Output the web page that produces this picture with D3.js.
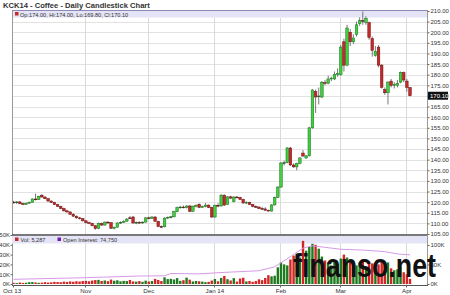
<!DOCTYPE html>
<html>
<head>
<meta charset="utf-8">
<script src="https://cdn.jsdelivr.net/npm/d3@7"></script>
<style>
  body { margin: 0; background: #fff; }
  svg { display: block; font-family: "Liberation Sans", Arial, sans-serif; }
</style>
</head>
<body>
<svg id="chart" width="450" height="295"></svg>
<script>
// month labels and the trading-day index where each month starts
const monthLabels = ["Oct 13", "Nov", "Dec", "Jan 14", "Feb", "Mar", "Apr"];
const monthStart = [0, 23, 43, 64, 85, 104, 125];

// daily OHLC, Oct 1 2013 .. Apr 2 2014
const opens = [120.0,119.8,120.1,119.3,118.9,119.5,119.9,121.5,121.2,123.3,122.4,121.6,120.5,119.9,118.8,118.0,117.0,115.9,115.4,114.3,113.4,112.6,112.2,
  111.2,110.4,110.0,108.9,107.6,109.9,109.2,110.6,110.3,107.7,108.2,110.2,110.5,111.0,112.6,113.0,110.2,110.5,110.3,110.6,
  112.6,112.4,113.0,111.0,108.5,108.4,112.5,112.9,113.1,115.5,117.5,117.7,117.4,118.2,115.7,118.1,119.0,117.5,118.0,118.6,117.5,
  113.0,118.5,118.2,123.3,119.0,122.5,120.2,122.4,122.2,121.3,119.6,119.9,118.9,117.9,117.7,117.0,116.8,116.2,115.8,118.7,122.2,
  127.1,138.4,138.6,145.5,137.5,136.6,138.2,143.1,140.8,141.8,155.0,172.0,169.8,169.5,176.3,176.0,178.0,178.0,180.0,
  180.0,195.5,184.5,200.0,195.5,199.0,204.0,205.5,204.5,204.5,197.0,189.0,193.0,184.5,173.0,171.5,177.0,175.0,175.0,176.5,181.0,
  177.0,174.0];
const highs = [120.6,120.4,120.5,119.8,119.8,120.3,121.8,124.0,123.0,123.7,122.8,122.0,120.9,120.2,119.2,118.3,117.4,116.4,115.6,114.8,113.7,113.0,112.5,
  111.5,110.8,110.3,109.2,110.3,110.4,110.9,111.0,110.6,108.5,110.5,110.9,111.5,112.5,113.5,113.5,110.9,111.0,110.9,112.9,
  113.2,113.4,113.4,111.2,109.0,112.8,113.2,113.4,116.0,117.9,118.2,118.4,118.5,118.6,118.4,119.0,119.4,118.4,119.6,118.9,117.8,
  118.9,119.5,123.8,123.6,122.8,123.0,122.8,122.9,122.6,121.6,120.4,120.2,119.2,118.5,118.0,117.8,117.6,116.4,119.0,122.6,127.5,
  138.9,139.5,145.9,146.0,138.2,138.6,141.2,144.5,142.2,155.4,173.2,173.0,174.0,177.0,177.5,179.5,179.0,181.5,183.0,
  194.0,197.0,203.5,201.5,199.0,205.0,207.0,209.8,207.5,205.0,198.0,193.5,194.0,185.0,174.0,177.0,178.0,176.5,177.5,181.5,181.5,
  178.0,174.0];
const lows = [119.4,119.2,119.0,118.6,118.7,119.2,119.7,120.8,121.0,122.2,121.4,120.3,119.6,118.6,117.7,116.8,115.6,115.0,114.0,113.0,112.2,111.8,110.9,
  110.0,109.6,108.6,107.0,107.3,108.8,109.0,109.8,107.4,107.2,108.0,109.8,110.2,110.8,112.0,109.8,109.6,109.9,109.8,110.4,
  112.0,112.1,110.8,108.2,107.9,108.1,112.0,112.4,112.8,115.2,116.9,117.1,117.0,115.3,115.4,117.5,117.2,117.2,117.6,117.2,112.6,
  112.6,117.6,117.9,118.3,118.8,121.4,119.9,121.8,121.0,119.3,119.1,118.6,117.6,117.4,116.7,116.5,115.9,115.5,115.6,118.4,121.9,
  126.8,137.2,138.3,137.0,136.2,135.0,137.8,141.4,140.3,141.5,154.6,162.0,166.0,169.0,175.0,175.5,177.0,177.5,179.0,
  179.5,181.5,184.0,193.5,194.5,198.0,203.0,203.5,203.5,196.5,188.5,188.5,183.5,173.5,170.5,166.0,174.0,173.5,174.0,176.0,176.5,
  172.0,169.8];
const closes = [119.8,120.1,119.3,118.9,119.5,119.9,121.5,121.2,122.8,122.4,121.6,120.5,119.9,118.8,118.0,117.0,115.9,115.4,114.3,113.4,112.6,112.2,111.2,
  110.4,110.0,108.9,107.6,109.9,109.2,110.6,110.3,107.7,108.2,110.2,110.5,111.0,112.0,112.4,110.2,110.5,110.3,110.6,112.6,
  112.4,113.0,111.0,108.5,108.4,112.5,112.9,113.1,115.5,117.5,117.7,117.4,118.2,115.7,118.1,118.4,117.5,118.0,118.6,117.5,113.0,
  118.5,118.2,123.3,118.6,122.5,121.9,122.4,122.2,121.3,119.6,119.9,118.9,117.9,117.7,117.0,116.8,116.2,115.8,118.7,122.2,127.1,
  138.4,138.6,145.5,137.5,136.6,138.2,140.8,141.7,141.8,155.0,172.8,169.5,170.0,176.5,176.0,178.0,178.4,180.0,180.6,
  193.0,184.5,202.0,195.5,197.3,203.5,205.5,205.4,206.5,197.5,191.5,191.0,184.5,174.0,171.5,176.5,175.0,175.5,176.0,181.0,177.5,
  174.0,170.1];

// daily volume, thousands of contracts
const volumes = [1.2,0.9,1.5,1.1,1.3,1.8,2.0,1.6,1.2,1.4,1.9,1.5,1.7,2.2,2.0,1.8,2.4,2.1,2.6,2.3,2.8,2.5,3.0,
  3.2,2.8,3.5,4.0,4.2,3.1,3.6,2.9,4.5,3.3,3.8,2.7,3.2,3.0,4.1,2.6,2.4,3.0,2.2,3.4,
  2.5,3.0,5.2,4.1,3.0,6.8,5.0,5.3,4.6,6.0,3.2,3.9,6.5,4.4,2.6,3.1,2.8,2.4,1.9,2.2,3.5,
  5.1,2.8,6.2,8.2,4.9,3.6,6.0,2.5,5.6,6.4,2.6,3.1,2.2,3.0,4.8,3.9,6.1,9.0,7.8,8.5,17.0,
  22.0,20.0,19.0,25.0,29.0,31.0,27.0,44.0,34.0,38.0,41.0,40.0,36.0,28.0,24.0,22.0,19.0,23.0,20.0,
  26.0,30.0,27.0,24.0,21.0,19.0,22.0,25.0,18.0,23.0,21.0,17.0,20.0,24.0,19.0,22.0,16.0,14.0,15.0,18.0,12.0,
  10.0,5.287];

// open interest readings (trading-day index, thousands)
const oiIdx = [0, 22, 40, 48, 50, 59, 65, 78, 83, 88, 92, 95, 99, 104, 111, 118, 122, 126];
const oiVal = [12, 16, 20.5, 21, 27, 26, 29, 34, 44, 70, 92, 98, 94, 89, 87, 83, 77, 74.75];

const svg = d3.select("#chart");
const L = 12, R = 427;
const green = "#3fcf3f", greenEdge = "#1c6e1c";
const red = "#c42a2a", redEdge = "#6e1010";

const x = d3.scaleLinear().domain([0, 126]).range([13.5, 410]);
const y = d3.scaleLinear().domain([105, 210]).range([234, 11]);
const yVol = d3.scaleLinear().domain([0, 50]).range([284, 235]);
const yOi = d3.scaleLinear().domain([0, 100]).range([284, 245]);

// title
svg.append("text")
  .attr("x", 3).attr("y", 8)
  .style("font-size", "7.6px").style("font-weight", "bold").attr("fill", "#333")
  .text("KCK14 - Coffee - Daily Candlestick Chart");

// ---- price panel ----
const grid = svg.append("g");
grid.selectAll(".hg").data(y.ticks(21)).enter().append("line")
  .attr("x1", L).attr("x2", R)
  .attr("y1", d => Math.round(y(d)) + 0.5).attr("y2", d => Math.round(y(d)) + 0.5)
  .attr("stroke", "#e2e2e2");
grid.selectAll(".vg").data(monthStart.slice(1)).enter().append("line")
  .attr("x1", d => Math.round(x(d)) - 0.5).attr("x2", d => Math.round(x(d)) - 0.5)
  .attr("y1", 18).attr("y2", 285)
  .attr("stroke", "#dadada");

// legend band
svg.append("rect").attr("x", L).attr("y", 10.5).attr("width", R - L).attr("height", 7)
  .attr("fill", "#e4e4f6");
svg.append("line").attr("x1", L).attr("x2", R).attr("y1", 10.5).attr("y2", 10.5)
  .attr("stroke", "#8a8ab8");
svg.append("rect").attr("x", 15).attr("y", 12).attr("width", 3.5).attr("height", 3.5).attr("fill", red);
svg.append("text").attr("x", 20).attr("y", 16.5)
  .style("font-size", "5.6px").attr("fill", "#333")
  .text("Op:174.00, Hi:174.00, Lo:169.80, Cl:170.10");

// candles
const last = closes.length - 1;
const candles = svg.append("g");
d3.range(closes.length).forEach(i => {
  const up = closes[i] >= opens[i];
  const cx = x(i);
  candles.append("line")
    .attr("x1", cx).attr("x2", cx)
    .attr("y1", y(highs[i])).attr("y2", y(lows[i]))
    .attr("stroke", "#555").attr("stroke-width", 0.8);
  const top = y(Math.max(opens[i], closes[i]));
  const h = Math.max(0.8, Math.abs(y(opens[i]) - y(closes[i])));
  candles.append("rect")
    .attr("x", cx - 1.3).attr("y", top)
    .attr("width", 2.6).attr("height", h)
    .attr("fill", Math.abs(opens[i] - closes[i]) < 0.3 ? "#222" : (up ? green : red))
    .attr("stroke", up ? greenEdge : redEdge).attr("stroke-width", 0.5);
});

// price frame + right axis
svg.append("line").attr("x1", L + 0.5).attr("x2", L + 0.5).attr("y1", 10).attr("y2", 285).attr("stroke", "#999");
svg.append("line").attr("x1", R + 0.5).attr("x2", R + 0.5).attr("y1", 10).attr("y2", 285).attr("stroke", "#999");
const priceAxis = svg.append("g")
  .attr("transform", `translate(${R + 0.5},0)`)
  .call(d3.axisRight(y).tickValues(y.ticks(21)).tickSize(2).tickPadding(1).tickFormat(d3.format(".2f")));
priceAxis.select(".domain").remove();
priceAxis.selectAll("text").style("font-size", "6px").attr("fill", "#333");
priceAxis.selectAll("line").attr("stroke", "#666");

// last price tag
svg.append("rect").attr("x", R + 1).attr("y", y(closes[last]) - 4).attr("width", 20).attr("height", 8).attr("fill", "#111");
svg.append("text").attr("x", R + 3).attr("y", y(closes[last]) + 2.2)
  .style("font-size", "6px").attr("fill", "#fff")
  .text(d3.format(".2f")(closes[last]));

// ---- volume panel ----
svg.append("rect").attr("x", L).attr("y", 235).attr("width", R - L).attr("height", 8.5).attr("fill", "#e4e4f6");
svg.append("line").attr("x1", L).attr("x2", R).attr("y1", 235).attr("y2", 235)
  .attr("stroke", "#555").attr("stroke-width", 1.6);
svg.append("rect").attr("x", 15).attr("y", 237.5).attr("width", 3.5).attr("height", 3.5).attr("fill", red);
svg.append("text").attr("x", 20.5).attr("y", 242).style("font-size", "5.6px").attr("fill", "#333")
  .text("Vol: " + d3.format(",")(Math.round(volumes[last] * 1000)));
svg.append("rect").attr("x", 57.5).attr("y", 237.5).attr("width", 3.5).attr("height", 3.5).attr("fill", "#6a1fb0");
svg.append("text").attr("x", 63).attr("y", 242).style("font-size", "5.6px").attr("fill", "#333")
  .text("Open Interest: " + d3.format(",")(oiVal[oiVal.length - 1] * 1000));

svg.append("g").selectAll("rect").data(volumes).enter().append("rect")
  .attr("x", (d, i) => x(i) - 1.2).attr("width", 2.4)
  .attr("y", d => yVol(d)).attr("height", d => yVol(0) - yVol(d))
  .attr("fill", (d, i) => closes[i] >= opens[i] ? "#1e7a1e" : "#d42424");

const oiLine = d3.line().x(d => x(d[0])).y(d => yOi(d[1]));
svg.append("path")
  .datum(oiIdx.map((d, i) => [d, oiVal[i]]))
  .attr("d", oiLine).attr("fill", "none")
  .attr("stroke", "#d79ae6").attr("stroke-width", 1);

const volAxis = svg.append("g").attr("transform", `translate(${L + 0.5},0)`)
  .call(d3.axisLeft(yVol).tickValues([0, 10, 20, 30, 40, 50]).tickSize(2).tickPadding(0.5).tickFormat(d => d + "K"));
volAxis.select(".domain").remove();
volAxis.selectAll("text").style("font-size", "6px").attr("fill", "#333");
volAxis.selectAll("line").attr("stroke", "#666");

const oiAxis = svg.append("g").attr("transform", `translate(${R + 0.5},0)`)
  .call(d3.axisRight(yOi).tickValues([0, 50, 100]).tickSize(2).tickPadding(1).tickFormat(d => d + "K"));
oiAxis.select(".domain").remove();
oiAxis.selectAll("text").style("font-size", "6px").attr("fill", "#333");
oiAxis.selectAll("line").attr("stroke", "#666");

// bottom date axis
svg.append("line").attr("x1", L).attr("x2", R + 1).attr("y1", 285.5).attr("y2", 285.5).attr("stroke", "#555");
const dateAxis = svg.append("g").attr("transform", "translate(0,285.5)");
dateAxis.selectAll("line").data(monthStart).enter().append("line")
  .attr("x1", d => Math.round(x(d)) - 0.5).attr("x2", d => Math.round(x(d)) - 0.5)
  .attr("y1", 0).attr("y2", 2).attr("stroke", "#666");
dateAxis.selectAll("text").data(monthLabels).enter().append("text")
  .attr("x", (d, i) => i === 0 ? L : x(monthStart[i]))
  .attr("y", 7.5).attr("text-anchor", "middle")
  .style("font-size", "6.2px").attr("fill", "#333")
  .text(d => d);

// watermark
svg.append("text").attr("x", 293).attr("y", 277)
  .attr("textLength", 143).attr("lengthAdjust", "spacingAndGlyphs")
  .style("font-size", "33px").style("font-weight", "bold").attr("fill", "#111")
  .text("finanso.net");
</script>
</body>
</html>
